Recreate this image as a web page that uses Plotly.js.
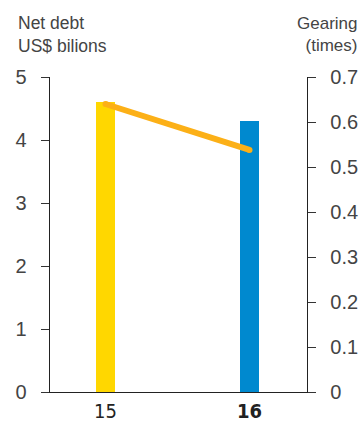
<!DOCTYPE html>
<html>
<head>
<meta charset="utf-8">
<script src="https://cdn.plot.ly/plotly-3.0.1.min.js"></script>
<style>html,body{margin:0;padding:0;background:#fff;}#chart{width:360px;height:423px;}</style>
</head>
<body>
<div id="chart"></div>
<script>
const years = ['15', '16'];
const yearLabels = ['15', '<b>16</b>'];
const netDebt = [4.6, 4.3];
const gearing = [0.64, 0.538];
const barColors = ['#FFD700', '#0089CF'];

const xpos = years.map((_, i) => i);

const traces = [
  {
    type: 'bar', x: xpos, y: netDebt, width: 0.132,
    marker: {color: barColors}, hoverinfo: 'skip', showlegend: false
  },
  {
    type: 'scatter', mode: 'lines+markers', x: xpos, y: gearing, yaxis: 'y2',
    line: {color: '#FCB017', width: 6},
    marker: {color: '#FCB017', size: 6},
    hoverinfo: 'skip', showlegend: false
  }
];

const tickFont = {family: 'Liberation Sans, Arial, sans-serif', size: 20, color: '#444'};

const layout = {
  width: 360, height: 423,
  margin: {l: 50, r: 53, t: 77, b: 31, pad: 0},
  paper_bgcolor: '#fff', plot_bgcolor: '#fff',
  bargap: 0,
  xaxis: {
    range: [-0.385, 1.399], tickvals: xpos, ticktext: yearLabels,
    showline: true, linecolor: '#222', linewidth: 1.3,
    showgrid: false, zeroline: false, ticks: '', fixedrange: true,
    ticklabelstandoff: 1,
    tickfont: {family: 'DejaVu Sans Condensed, sans-serif', size: 20, color: '#222'}
  },
  yaxis: {
    range: [0, 5], dtick: 1, showgrid: false, zeroline: false,
    showline: true, linecolor: '#222', linewidth: 1.3,
    ticks: 'outside', ticklen: 8, tickcolor: '#333', tickwidth: 1,
    ticklabelstandoff: 10, tickfont: tickFont
  },
  yaxis2: {
    range: [0, 0.7], dtick: 0.1, overlaying: 'y', side: 'right',
    showgrid: false, zeroline: false,
    showline: true, linecolor: '#222', linewidth: 1.3,
    ticks: 'outside', ticklen: 8, tickcolor: '#333', tickwidth: 1,
    ticklabelstandoff: 10, tickfont: tickFont
  },
  annotations: [
    {
      xref: 'paper', yref: 'paper', x: (16 - 50) / 257, y: (392 - 11) / 315,
      xanchor: 'left', yanchor: 'top', align: 'left', showarrow: false,
      text: 'Net debt<br>US$ bilions',
      font: {family: 'Liberation Sans, Arial, sans-serif', size: 17.5, color: '#444'}
    },
    {
      xref: 'paper', yref: 'paper', x: (359 - 50) / 257, y: (392 - 12) / 315,
      xanchor: 'right', yanchor: 'top', align: 'right', showarrow: false,
      text: 'Gearing<br>(times)',
      font: {family: 'Liberation Sans Narrow, Liberation Sans, Arial, sans-serif', size: 17, color: '#444'}
    }
  ]
};

Plotly.newPlot('chart', traces, layout, {staticPlot: true, displayModeBar: false});
</script>
</body>
</html>
